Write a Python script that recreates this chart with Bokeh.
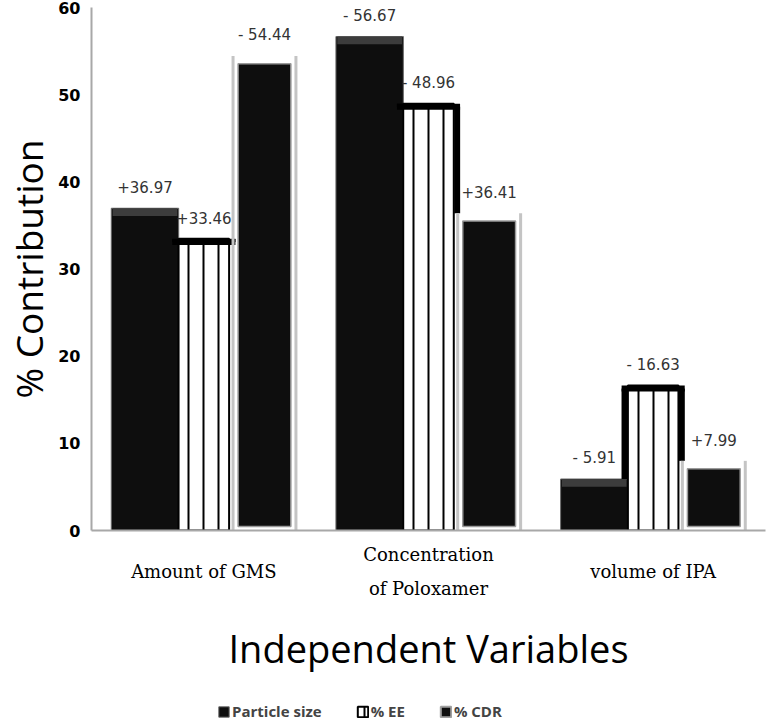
from bokeh.plotting import figure
from bokeh.models import FixedTicker, Legend, LegendItem, ColumnDataSource
from bokeh.layouts import column
from bokeh.core.properties import value
from bokeh.embed import file_html
from bokeh.resources import INLINE

# ---- data ----
categories = ["\nAmount of GMS", "Concentration\n\nof Poloxamer", "\nvolume of IPA"]
series_names = ["Particle size", "% EE", "% CDR"]
particle = [36.97, 56.67, 5.91]
particle_sign = ["+", "-", "-"]
ee = [33.46, 48.96, 16.63]
ee_sign = ["+", "-", "-"]
cdr = [54.44, 36.41, 7.99]
cdr_sign = ["-", "+", "+"]
y_ticks = [0, 10, 20, 30, 40, 50, 60]

# ---- layout constants (styles) ----
PS_OFF, PS_W = -0.262, 0.30
EE_OFF, EE_W = 0.0, 0.225
CDR_OFF, CDR_W, CDR_IN_W = 0.27, 0.28, 0.235

idx = list(range(len(categories)))

PS_STYLE = dict(fill_color="#0e0e0e", line_color="#6a6a6a", line_width=1)
EE_STYLE = dict(fill_color="white", line_color="black", line_width=2,
                hatch_pattern="|", hatch_color="black", hatch_weight=2,
                hatch_scale=15)
CDR_STYLE = dict(fill_color="#0e0e0e", line_color="#a0a0a0", line_width=2)


def fmt(sign, v):
    return ("+" if sign == "+" else "- ") + f"{v:.2f}"


p = figure(width=767, height=700, x_range=(-0.5, 2.5), y_range=(0, 60),
           output_backend="svg", toolbar_location=None,
           min_border_left=90, min_border_right=2, min_border_top=7,
           min_border_bottom=170)
p.grid.visible = False
p.outline_line_color = None
p.background_fill_color = "white"

# Particle size bars
ps_src = ColumnDataSource(dict(x=[i + PS_OFF for i in idx], top=particle,
                               bev=[v - 0.9 for v in particle]))
p.vbar(x="x", top="top", bottom=0, width=PS_W, source=ps_src, **PS_STYLE)
p.vbar(x="x", top="top", bottom="bev", width=PS_W - 0.012, source=ps_src,
       fill_color="#3c3c3c", line_alpha=0)

# %EE bars (white with vertical lines)
ee_src = ColumnDataSource(dict(x=[i + EE_OFF for i in idx], top=ee))
p.vbar(x="x", top="top", bottom=0, width=EE_W, source=ee_src, **EE_STYLE)
# thick outline following the skyline
ee_l = [i + EE_OFF - EE_W / 2 for i in idx]
ee_r = [i + EE_OFF + EE_W / 2 for i in idx]
p.segment(x0=[x - 0.028 for x in ee_l], x1=[x + 0.028 for x in ee_r],
          y0=[v - 0.35 for v in ee], y1=[v - 0.35 for v in ee],
          line_color="black", line_width=6)
p.segment(x0=[x - 0.015 for x in ee_l], x1=[x - 0.015 for x in ee_l],
          y0=[v - 0.35 for v in ee], y1=[min(a, b) for a, b in zip(ee, particle)],
          line_color="black", line_width=6)
p.segment(x0=[x + 0.015 for x in ee_r], x1=[x + 0.015 for x in ee_r],
          y0=[v - 0.35 for v in ee], y1=[min(a, b) for a, b in zip(ee, cdr)],
          line_color="black", line_width=6)

# %CDR bars (framed black)
cdr_x = [i + CDR_OFF for i in idx]
p.segment(x0=[x - CDR_W / 2 for x in cdr_x], x1=[x - CDR_W / 2 for x in cdr_x],
          y0=0, y1=cdr, line_color="#c4c4c4", line_width=3)
p.segment(x0=[x + CDR_W / 2 for x in cdr_x], x1=[x + CDR_W / 2 for x in cdr_x],
          y0=0, y1=cdr, line_color="#c4c4c4", line_width=3)
cdr_src = ColumnDataSource(dict(x=cdr_x, top=[v - 0.9 for v in cdr]))
p.vbar(x="x", top="top", bottom=0.45, width=CDR_IN_W, source=cdr_src,
       fill_color="#0e0e0e", line_color="#9a9a9a", line_width=1.5)

# value labels
lab_x = [i + PS_OFF for i in idx] + [i + EE_OFF for i in idx] + cdr_x
lab_y = particle + ee + cdr
lab_t = ([fmt(s, v) for s, v in zip(particle_sign, particle)] +
         [fmt(s, v) for s, v in zip(ee_sign, ee)] +
         [fmt(s, v) for s, v in zip(cdr_sign, cdr)])
p.text(x=lab_x, y=lab_y, text=lab_t, text_align="center",
       text_baseline="middle", y_offset=-21,
       text_font=value("DejaVu Sans"), text_font_size="15px",
       text_color="#333333")

# axes
xa = p.xaxis[0]
xa.ticker = FixedTicker(ticks=idx)
xa.major_label_overrides = {i: c for i, c in zip(idx, categories)}
xa.major_label_text_font = "DejaVu Serif"
xa.major_label_text_font_size = "18px"
xa.major_label_text_color = "black"
xa.major_label_text_baseline = "top"
xa.major_label_text_line_height = 0.83
xa.major_label_standoff = 7
xa.major_tick_line_color = None
xa.minor_tick_line_color = None
xa.axis_line_color = "#a8a8a8"
xa.axis_line_width = 2
xa.axis_label = "Independent Variables"
xa.axis_label_text_font = "Open Sans"
xa.axis_label_text_font_size = "38px"
xa.axis_label_text_font_style = "normal"
xa.axis_label_text_color = "black"
xa.axis_label_standoff = 20

ya = p.yaxis[0]
ya.ticker = FixedTicker(ticks=y_ticks)
ya.major_label_text_font = "DejaVu Sans"
ya.major_label_text_font_style = "bold"
ya.major_label_text_font_size = "16px"
ya.major_label_text_color = "black"
ya.major_label_standoff = 5
ya.major_tick_line_color = None
ya.minor_tick_line_color = None
ya.axis_line_color = "#a8a8a8"
ya.axis_line_width = 2
ya.axis_label = "% Contribution"
ya.axis_label_text_font = "Open Sans"
ya.axis_label_text_font_size = "37px"
ya.axis_label_text_font_style = "normal"
ya.axis_label_text_color = "black"
ya.axis_label_standoff = 1

# legend strip below the chart: its bars share the chart's data but are muted
# (drawn fully transparent) and outside the visible window, so only the
# legend swatches show
lg = figure(width=767, height=22, x_range=(-0.5, 2.5), y_range=(1000, 1001),
            x_axis_type=None, y_axis_type=None,
            output_backend="svg", toolbar_location=None,
            min_border=0, min_border_left=90, min_border_right=2,
            min_border_top=0, min_border_bottom=0)
lg.grid.visible = False
lg.outline_line_color = None
r1 = lg.vbar(x="x", top="top", width=PS_W, source=ps_src, muted_alpha=0, **PS_STYLE)
r2 = lg.vbar(x="x", top="top", width=EE_W, source=ee_src, muted_alpha=0, **EE_STYLE)
r3 = lg.vbar(x="x", top="top", width=CDR_IN_W, source=cdr_src, muted_alpha=0, **CDR_STYLE)
for r in (r1, r2, r3):
    r.muted = True
legend = Legend(items=[LegendItem(label=series_names[0], renderers=[r1]),
                       LegendItem(label=series_names[1], renderers=[r2]),
                       LegendItem(label=series_names[2], renderers=[r3])],
                orientation="horizontal", location=(125, 0),
                label_text_font="Open Sans", label_text_font_style="bold",
                label_text_font_size="15px", glyph_width=13, glyph_height=13,
                label_standoff=2, spacing=34, padding=1, margin=0,
                label_height=20,
                border_line_alpha=0, background_fill_alpha=0)
lg.add_layout(legend, "center")

open("out.html", "w").write(file_html(column(p, lg, spacing=0), INLINE))
